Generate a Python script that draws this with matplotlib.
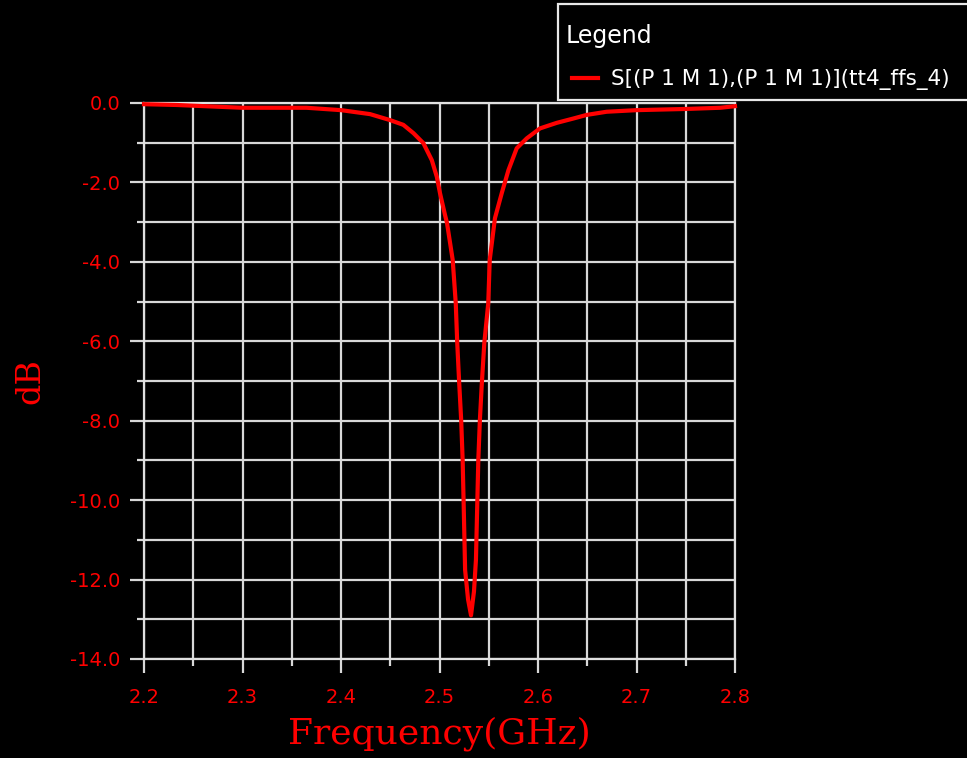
import matplotlib
matplotlib.use('Agg')
import matplotlib.pyplot as plt
from matplotlib.ticker import MultipleLocator, FormatStrFormatter
from matplotlib.patches import Rectangle

# S11 readout (GHz, dB)
freq = [2.2, 2.233, 2.30, 2.365, 2.40, 2.4295, 2.4497, 2.4633, 2.4736,
        2.4836, 2.4922, 2.4973, 2.5005, 2.5056, 2.5076, 2.5134, 2.5165,
        2.518, 2.520, 2.522, 2.5235, 2.5245, 2.526, 2.529, 2.532, 2.535,
        2.537, 2.5394, 2.541, 2.543, 2.5455, 2.5495, 2.551, 2.5563, 2.5632,
        2.570, 2.5784, 2.5886, 2.602, 2.619, 2.636, 2.6494, 2.6697, 2.70,
        2.75, 2.785, 2.80]
s11 = [-0.03, -0.05, -0.12, -0.12, -0.18, -0.28, -0.43, -0.55, -0.76,
       -1.01, -1.44, -1.86, -2.27, -2.82, -3.02, -3.95, -5.04,
       -6.04, -7.05, -7.98, -8.99, -10.07, -11.76, -12.5, -12.9, -12.3,
       -11.5, -8.99, -7.98, -7.05, -6.04, -5.04, -3.95, -2.90, -2.27,
       -1.69, -1.14, -0.89, -0.64, -0.50, -0.39, -0.30, -0.22, -0.18,
       -0.15, -0.12, -0.08]
trace_name = 'S[(P 1 M 1),(P 1 M 1)](tt4_ffs_4)'

W, H = 967, 758
fig = plt.figure(figsize=(W/100, H/100), dpi=100, facecolor='black')
ax = fig.add_axes([144/W, 1-659/H, (735-144)/W, (659-103)/H])
ax.set_facecolor('black')

line, = ax.plot(freq, s11, color='#ff0000', lw=3, clip_on=False, zorder=3)

ax.set_xlim(2.2, 2.8)
ax.set_ylim(-14, 0)
ax.xaxis.set_major_locator(MultipleLocator(0.1))
ax.xaxis.set_minor_locator(MultipleLocator(0.05))
ax.yaxis.set_major_locator(MultipleLocator(2))
ax.yaxis.set_minor_locator(MultipleLocator(1))
ax.xaxis.set_major_formatter(FormatStrFormatter('%.1f'))
ax.yaxis.set_major_formatter(FormatStrFormatter('%.1f'))

ax.grid(True, which='both', color='#d8d8d8', lw=1.6)
for s in ax.spines.values():
    s.set_color('#e0e0e0')
    s.set_linewidth(1.6)

ax.tick_params(which='major', length=10, width=1.6, color='#d8d8d8',
               labelcolor='#ff0000', labelsize=14, pad=7)
ax.tick_params(which='minor', length=5, width=1.6, color='#d8d8d8')
ax.tick_params(axis='x', which='major', pad=11)

ax.set_xlabel('Frequency(GHz)', color='#ff0000', family='DejaVu Serif',
              fontsize=26, labelpad=7)
ax.set_ylabel('dB', color='#ff0000', family='DejaVu Serif', fontsize=24,
              labelpad=17)

# legend box, runs off the right edge like the original
fig.patches.append(Rectangle((558/W, 1-100/H), 500/W, 96/H,
                             transform=fig.transFigure, facecolor='black',
                             edgecolor='#e8e8e8', lw=1.6, zorder=5))
fig.text(566/W, 1-36/H, 'Legend', color='white', fontsize=17,
         va='center', ha='left', zorder=6)
leg = fig.legend([line], [trace_name], loc='center left',
                 bbox_to_anchor=(553/W, 1-80/H), frameon=False,
                 fontsize=15.5, handlelength=1.2, handletextpad=0.6,
                 labelcolor='white')
leg.set_zorder(6)

fig.savefig('out.png', dpi=100, facecolor='black')
